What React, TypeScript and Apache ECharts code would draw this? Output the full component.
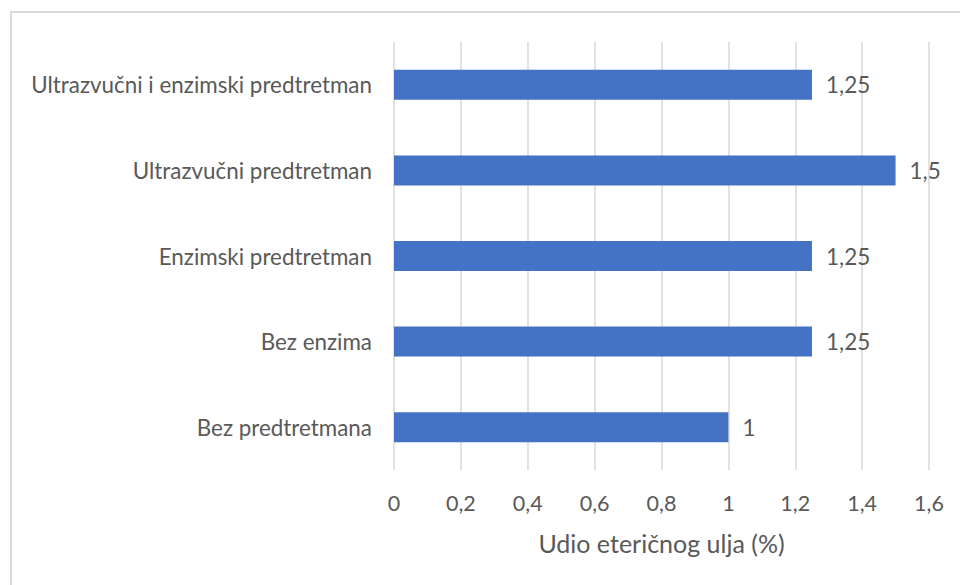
import React, { useEffect, useRef } from "react";
import * as echarts from "echarts";

const categories = [
  "Bez predtretmana",
  "Bez enzima",
  "Enzimski predtretman",
  "Ultrazvučni predtretman",
  "Ultrazvučni i enzimski predtretman",
];
const values = [1, 1.25, 1.25, 1.5, 1.25];
const axisTitle = "Udio eteričnog ulja (%)";

const fmt = (v: number) => String(v).replace(".", ",");
const FONT = "Lato";

export default function App() {
  const ref = useRef<HTMLDivElement>(null);
  useEffect(() => {
    if (!ref.current) return;
    const chart = echarts.init(ref.current, undefined, { renderer: "svg" });
    chart.setOption({
      animation: false,
      backgroundColor: "#ffffff",
      textStyle: { fontFamily: FONT },
      graphic: [
        {
          type: "rect",
          shape: { x: 11, y: 12, width: 980, height: 620 },
          style: { fill: "none", stroke: "#d9d9d9", lineWidth: 2 },
          silent: true,
          z: -1,
        },
      ],
      grid: { left: 394, right: 31, top: 42, bottom: 115 },
      xAxis: {
        type: "value",
        min: 0,
        max: 1.6,
        interval: 0.2,
        name: axisTitle,
        nameLocation: "middle",
        nameGap: 60,
        nameTextStyle: { color: "#595959", fontSize: 25, fontFamily: FONT },
        axisLine: { show: false },
        axisTick: { show: false },
        axisLabel: {
          color: "#595959",
          fontSize: 21.5,
          fontFamily: FONT,
          margin: 22,
          formatter: (v: number) => fmt(Math.round(v * 10) / 10),
        },
        splitLine: { show: true, lineStyle: { color: "#d9d9d9", width: 1.5 } },
      },
      yAxis: {
        type: "category",
        data: categories,
        axisLine: { show: false },
        axisTick: { show: false },
        axisLabel: { color: "#595959", fontSize: 22.4, fontFamily: FONT, margin: 22 },
      },
      series: [
        {
          type: "bar",
          data: values,
          barWidth: 30,
          itemStyle: { color: "#4472C4" },
          label: {
            show: true,
            position: "right",
            distance: 14,
            color: "#595959",
            fontSize: 22.5,
            fontFamily: FONT,
            formatter: (p: any) => fmt(p.value),
          },
        },
      ],
    });
    return () => chart.dispose();
  }, []);
  return (
    <div
      ref={ref}
      style={{ position: "fixed", left: 0, top: 0, width: 960, height: 585 }}
    />
  );
}
